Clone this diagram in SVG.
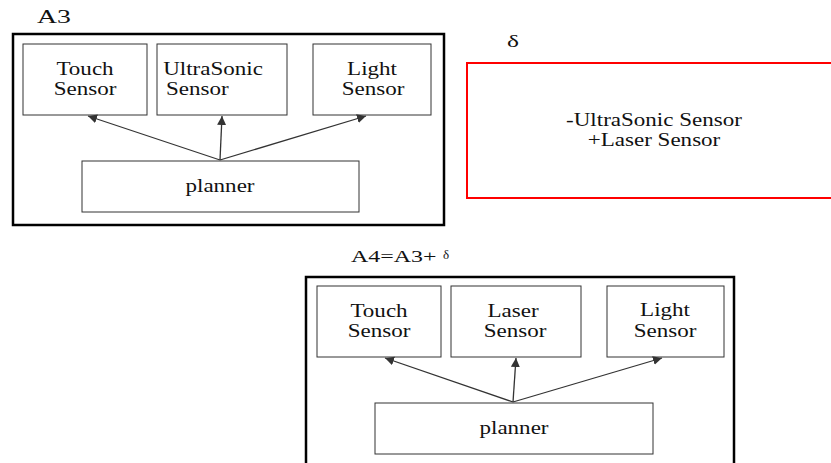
<svg xmlns="http://www.w3.org/2000/svg" width="831" height="463" viewBox="0 0 831 463">
<style>
.lbl{font-size:18px;text-anchor:middle;}
text{font-family:"Liberation Serif","Times New Roman",serif;fill:#111;}
.outer{fill:#fff;stroke:#000;stroke-width:2.5;}
.inner{fill:#fff;stroke:#333;stroke-width:1;}
.red{fill:#fff;stroke:#f00;stroke-width:2;}
.conn{stroke:#333;stroke-width:1.3;fill:none;marker-end:url(#ah);}
</style>
<defs>
<marker id="ah" viewBox="0 0 10 10" refX="10" refY="5" markerWidth="9" markerHeight="9" orient="auto" markerUnits="userSpaceOnUse">
<path d="M0,0 L10,5 L0,10 z" fill="#333"/>
</marker>
</defs>
<rect width="831" height="463" fill="#fff"/>
<g id="A3">
<text transform="translate(37,23) scale(1.5,1)" font-size="18.5">A3</text>
<rect class="outer" x="13" y="34" width="431" height="191"/>
</g>
<g id="a3-touch">
<rect class="inner" x="23" y="44" width="124" height="71"/>
<text class="lbl" transform="translate(85,75) scale(1.28,1)">Touch</text>
<text class="lbl" transform="translate(85,95) scale(1.28,1)">Sensor</text>
</g>
<g id="a3-ultrasonic">
<rect class="inner" x="157" y="44" width="130" height="71"/>
<text class="lbl" transform="translate(213,75) scale(1.28,1)">UltraSonic</text>
<text transform="translate(166,95) scale(1.28,1)" font-size="18">Sensor</text>
</g>
<g id="a3-light">
<rect class="inner" x="313" y="44" width="118" height="71"/>
<text class="lbl" transform="translate(372,75) scale(1.28,1)">Light</text>
<text class="lbl" transform="translate(373,95) scale(1.28,1)">Sensor</text>
</g>
<g id="a3-planner">
<rect class="inner" x="82" y="161" width="277" height="51"/>
<text class="lbl" transform="translate(220,192) scale(1.28,1)">planner</text>
</g>
<g id="delta">
<text transform="translate(507,47) scale(1.5,1)" font-size="17">δ</text>
<rect class="red" x="467" y="63" width="370" height="135"/>
<text class="lbl" transform="translate(654,126) scale(1.28,1)">-UltraSonic Sensor</text>
<text class="lbl" transform="translate(654,146) scale(1.28,1)">+Laser Sensor</text>
</g>
<g id="A4">
<text transform="translate(351,262) scale(1.45,1)" font-size="16.5">A4=A3+</text>
<text transform="translate(443,259)" font-size="13">δ</text>
<rect class="outer" x="306" y="277" width="428" height="200"/>
</g>
<g id="a4-touch">
<rect class="inner" x="317" y="286" width="124" height="71"/>
<text class="lbl" transform="translate(379,317) scale(1.28,1)">Touch</text>
<text class="lbl" transform="translate(379,337) scale(1.28,1)">Sensor</text>
</g>
<g id="a4-laser">
<rect class="inner" x="451" y="286" width="130" height="71"/>
<text class="lbl" transform="translate(513,317) scale(1.28,1)">Laser</text>
<text class="lbl" transform="translate(515,337) scale(1.28,1)">Sensor</text>
</g>
<g id="a4-light">
<rect class="inner" x="607" y="286" width="117" height="71"/>
<text class="lbl" transform="translate(665,316) scale(1.28,1)">Light</text>
<text class="lbl" transform="translate(665,337) scale(1.28,1)">Sensor</text>
</g>
<g id="a4-planner">
<rect class="inner" x="375" y="403" width="278" height="51"/>
<text class="lbl" transform="translate(514,434) scale(1.28,1)">planner</text>
</g>
<g id="connectors">
<line class="conn" x1="220" y1="160" x2="88" y2="116"/>
<line class="conn" x1="220" y1="160" x2="222" y2="116"/>
<line class="conn" x1="220" y1="160" x2="366" y2="116"/>
<line class="conn" x1="513" y1="402" x2="385" y2="358"/>
<line class="conn" x1="513" y1="402" x2="516" y2="358"/>
<line class="conn" x1="513" y1="402" x2="662" y2="358"/>
</g>
</svg>
